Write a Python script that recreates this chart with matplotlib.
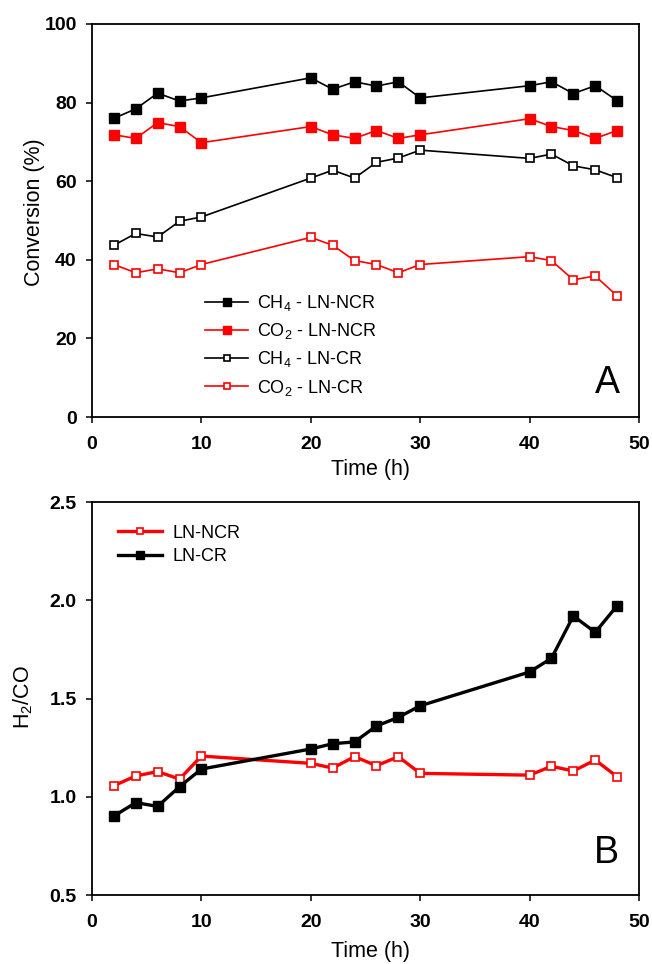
import matplotlib
matplotlib.use("Agg")
import matplotlib.pyplot as plt

plt.rcParams['font.family'] = ['Liberation Sans', 'DejaVu Sans']
plt.rcParams['mathtext.default'] = 'regular'

time = [2, 4, 6, 8, 10, 20, 22, 24, 26, 28, 30, 40, 42, 44, 46, 48]

ch4_ncr = [76.0, 78.4, 82.4, 80.4, 81.2, 86.3, 83.4, 85.3, 84.2, 85.3, 81.2, 84.3, 85.3, 82.3, 84.3, 80.5]
co2_ncr = [71.8, 70.9, 74.9, 73.9, 69.8, 73.9, 71.8, 70.9, 72.9, 70.9, 71.8, 75.9, 73.9, 72.9, 70.9, 72.9]
ch4_cr = [43.7, 46.7, 45.8, 49.8, 50.9, 60.8, 62.8, 60.8, 64.8, 65.9, 67.9, 65.8, 66.9, 63.9, 62.9, 60.9]
co2_cr = [38.8, 36.7, 37.7, 36.7, 38.8, 45.7, 43.7, 39.8, 38.8, 36.7, 38.8, 40.8, 39.8, 34.9, 35.9, 30.8]

h2co_ncr = [1.056, 1.106, 1.128, 1.09, 1.207, 1.17, 1.146, 1.204, 1.158, 1.204, 1.119, 1.11, 1.155, 1.131, 1.187, 1.102]
h2co_cr = [0.902, 0.970, 0.951, 1.051, 1.141, 1.243, 1.270, 1.279, 1.360, 1.404, 1.463, 1.635, 1.705, 1.920, 1.837, 1.972]

W, H = 652, 964
fig = plt.figure(figsize=(W / 100, H / 100), dpi=100)

def px_axes(x0, y0, x1, y1):
    return fig.add_axes([x0 / W, (H - y1) / H, (x1 - x0) / W, (y1 - y0) / H])

ax1 = px_axes(92, 24, 639, 417)
ax2 = px_axes(92, 502, 639, 895)

tick_fs = 14
label_fs = 15.5

def style(ax):
    for s in ax.spines.values():
        s.set_linewidth(1.3)
    ax.tick_params(direction='out', length=4, width=1.1, labelsize=tick_fs,
                   top=False, right=False)
    ax.tick_params(axis='x', pad=10)
    ax.tick_params(axis='y', pad=7)
    for lab in ax.get_xticklabels() + ax.get_yticklabels():
        lab.set_fontweight('bold')

# Top panel
lw1 = 1.2
ax1.plot(time, ch4_ncr, color='black', lw=lw1, marker='s', ms=7.0, mfc='black', mec='black',
         label='CH$_4$ - LN-NCR')
ax1.plot(time, co2_ncr, color='red', lw=lw1, marker='s', ms=7.0, mfc='red', mec='red',
         label='CO$_2$ - LN-NCR')
ax1.plot(time, ch4_cr, color='black', lw=lw1, marker='s', ms=5.6, mfc='white', mec='black', mew=1.2,
         label='CH$_4$ - LN-CR')
ax1.plot(time, co2_cr, color='red', lw=lw1, marker='s', ms=5.6, mfc='white', mec='red', mew=1.2,
         label='CO$_2$ - LN-CR')
ax1.set_xlim(0, 50)
ax1.set_ylim(0, 100)
ax1.set_xticks([0, 10, 20, 30, 40, 50])
ax1.set_yticks([0, 20, 40, 60, 80, 100])
style(ax1)
ax1.set_xlabel('Time (h)', fontsize=label_fs)
ax1.set_ylabel('Conversion (%)', fontsize=label_fs)
ax1.xaxis.set_label_coords(0.51, -0.107)
ax1.yaxis.set_label_coords(-0.086, 0.522)
ax1.legend(loc='upper left', bbox_to_anchor=(0.2066, 0.315), frameon=False, fontsize=13,
           handlelength=2.4, handletextpad=0.5, labelspacing=0.45, borderpad=0,
           borderaxespad=0, markerscale=0.8)
ax1.text(0.9415, 0.0865, 'A', transform=ax1.transAxes, fontsize=27, ha='center', va='center')

# Bottom panel
lw2 = 2.4
ax2.plot(time, h2co_ncr, color='red', lw=lw2, marker='s', ms=5.6, mfc='white', mec='red', mew=1.2,
         label='LN-NCR')
ax2.plot(time, h2co_cr, color='black', lw=lw2, marker='s', ms=7.0, mfc='black', mec='black',
         label='LN-CR')
ax2.set_xlim(0, 50)
ax2.set_ylim(0.5, 2.5)
ax2.set_xticks([0, 10, 20, 30, 40, 50])
ax2.set_yticks([0.5, 1.0, 1.5, 2.0, 2.5])
ax2.set_yticklabels(['0.5', '1.0', '1.5', '2.0', '2.5'])
style(ax2)
ax2.set_xlabel('Time (h)', fontsize=label_fs)
ax2.set_ylabel('H$_2$/CO', fontsize=label_fs)
ax2.xaxis.set_label_coords(0.51, -0.118)
ax2.yaxis.set_label_coords(-0.104, 0.504)
ax2.legend(loc='upper left', bbox_to_anchor=(0.0475, 0.942), frameon=False, fontsize=13,
           handlelength=2.45, handletextpad=0.55, labelspacing=0.35, borderpad=0,
           borderaxespad=0, markerscale=0.8)
ax2.text(0.94, 0.107, 'B', transform=ax2.transAxes, fontsize=27, ha='center', va='center')

fig.savefig('out.png', dpi=100)
